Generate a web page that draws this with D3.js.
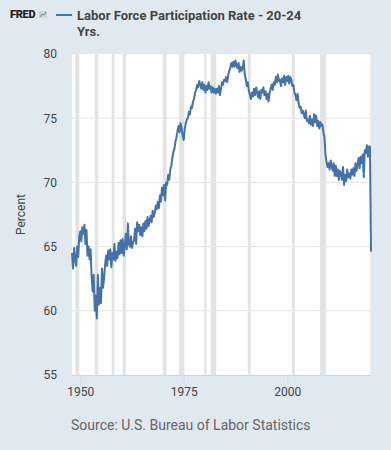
<!DOCTYPE html>
<html><head><meta charset="utf-8">
<script src="https://cdn.jsdelivr.net/npm/d3@7"></script>
<style>
html,body{margin:0;padding:0;background:#e1e9f0;}
svg{display:block;font-family:Roboto,"Open Sans",sans-serif;}
</style></head>
<body><svg id="c" width="391" height="450"></svg>
<script>
// Quarterly readings (Jan, Apr, Jul, Oct) starting 1948-01
const startYear = 1948;
const values = [
64.5,63.3,64.9,64.0, 63.5,65.0,64.2,65.8, 66.2,65.4,66.5,66.0, 66.7,65.2,66.3,64.3,
65.0,64.0,64.8,62.6, 61.5,62.8,60.0,61.2, 59.4,62.8,60.5,61.8, 60.6,63.3,61.8,62.5,
63.6,64.3,63.5,64.7, 64.0,64.8,63.4,64.5, 64.0,65.2,63.9,64.6, 64.1,65.3,64.4,65.5,
64.5,65.6,64.3,65.0, 66.0,64.8,66.8,65.2, 65.0,65.8,64.9,65.3, 65.5,66.4,65.2,66.9,
66.2,66.7,65.9,66.5, 65.8,66.8,66.2,67.0, 66.4,67.3,66.6,67.0, 67.4,66.9,67.8,67.3,
67.6,68.2,67.9,68.5, 68.0,69.0,68.5,69.6, 69.0,69.8,68.6,70.0, 69.8,70.6,70.2,71.0,
71.3,71.9,72.4,72.6, 73.2,73.5,74.0,74.4, 73.9,74.6,74.2,73.6, 73.3,74.2,74.6,74.9,
75.0,75.5,75.3,75.9, 75.8,76.3,76.5,77.0, 77.2,77.6,77.4,77.9, 77.6,77.3,77.8,77.2,
77.6,77.0,77.5,77.2, 77.8,77.3,77.5,77.0, 77.4,77.0,77.3,76.9, 77.3,77.0,77.5,76.8,
77.3,77.8,77.6,78.0, 77.9,78.2,77.8,78.4, 78.7,78.9,79.3,79.0, 79.4,79.0,79.5,79.1,
78.9,79.3,78.6,79.0, 78.7,78.9,79.5,78.4, 78.0,77.5,77.8,77.1, 76.8,76.5,77.0,76.7,
77.3,76.8,77.4,77.0, 76.6,77.1,76.5,77.2, 77.0,77.4,76.8,77.1, 76.5,76.9,76.3,77.0,
77.3,77.6,77.2,77.8, 77.6,78.2,77.8,78.4, 77.9,78.0,77.5,78.1, 77.8,78.3,77.6,78.2,
77.9,78.3,77.7,78.2, 78.0,77.5,77.6,77.0, 76.8,76.4,76.9,76.2, 75.8,75.9,75.4,75.6,
75.3,75.0,75.6,74.8, 74.9,74.6,75.2,74.5, 74.9,74.4,75.3,74.7, 75.2,74.4,74.8,74.2,
74.7,74.4,74.5,73.9, 73.5,72.2,71.6,71.2, 71.5,71.0,71.7,71.3, 70.9,71.5,70.5,71.3,
70.5,71.0,70.2,70.9, 70.7,70.2,71.2,69.8, 70.6,70.1,71.0,70.4, 70.7,70.3,71.0,70.6,
71.1,70.5,71.5,70.9, 71.4,71.9,71.1,72.0, 71.5,72.2,70.4,72.5, 72.3,72.9,72.0,72.8,
72.8,64.6
];
const recessions = [
["1948-11-01","1949-10-01"],["1953-07-01","1954-05-01"],["1957-08-01","1958-04-01"],
["1960-04-01","1961-02-01"],["1969-12-01","1970-11-01"],["1973-11-01","1975-03-01"],
["1980-01-01","1980-07-01"],["1981-07-01","1982-11-01"],["1990-07-01","1991-03-01"],
["2001-03-01","2001-11-01"],["2007-12-01","2009-06-01"],["2020-02-01","2020-04-01"]
];
const yTicks = [55,60,65,70,75,80];
const xTickYears = [1950,1975,2000];
const seriesTitle = ["Labor Force Participation Rate - 20-24","Yrs."];
const yLabel = "Percent";
const sourceText = "Source: U.S. Bureau of Labor Statistics";

const data = values.map((v,i)=>({d:new Date(startYear + Math.floor(i/4), (i%4)*3, 1), v}));

const svg = d3.select("#c");
const L=72, R=371, T=54, B=375;
const x = d3.scaleTime().domain([new Date(1948,0,1), new Date(2020,3,1)]).range([L,R]);
const y = d3.scaleLinear().domain([55,80]).range([B,T]);

svg.append("rect").attr("x",L).attr("y",T).attr("width",R-L).attr("height",B-T).attr("fill","#fff");

svg.append("g").selectAll("rect").data(recessions).join("rect")
  .attr("x",d=>x(new Date(d[0])))
  .attr("width",d=>Math.max(1,x(new Date(d[1]))-x(new Date(d[0]))))
  .attr("y",T).attr("height",B-T).attr("fill","#e3e3e3");

svg.append("g").selectAll("line").data(yTicks.slice(1,-1)).join("line")
  .attr("x1",L).attr("x2",R).attr("y1",d=>y(d)).attr("y2",d=>y(d))
  .attr("stroke","#e6e6e6").attr("stroke-width",1);

const yAxis = svg.append("g").attr("transform",`translate(${L},0)`)
  .call(d3.axisLeft(y).tickValues(yTicks).tickSize(0).tickPadding(15));
yAxis.select(".domain").remove();
yAxis.selectAll("text").attr("fill","#444").attr("font-size","12px").attr("font-family","Roboto");

const xAxis = svg.append("g").attr("transform",`translate(0,${B})`)
  .call(d3.axisBottom(x).tickValues(xTickYears.map(yr=>new Date(yr,0,1))).tickFormat(d3.timeFormat("%Y")).tickSize(8).tickPadding(4));
xAxis.select(".domain").attr("stroke","#ccd6eb").attr("d",`M${L},0.5H${R}`);
xAxis.selectAll(".tick line").attr("stroke","#ccd6eb");
xAxis.selectAll("text").attr("fill","#444").attr("font-size","12px").attr("font-family","Roboto");

svg.append("path").datum(data)
  .attr("d",d3.line().x(d=>x(d.d)).y(d=>y(d.v)))
  .attr("fill","none").attr("stroke","#4572a7").attr("stroke-width",2).attr("stroke-linejoin","round");

svg.append("text").attr("transform",`translate(25,${(T+B)/2}) rotate(-90)`)
  .attr("text-anchor","middle").attr("font-size","12px").attr("fill","#444").text(yLabel);

// header
svg.append("text").attr("x",10).attr("y",18).attr("font-size","11px").attr("font-weight","900")
  .attr("font-family","Roboto").attr("fill","#222").attr("letter-spacing","-0.3").text("FRED");
const icon = svg.append("g").attr("transform","translate(39,11)");
icon.append("rect").attr("width",8).attr("height",7).attr("fill","#c9d6e3");
icon.append("path").attr("d","M1,6L3,3L5,4L7,1").attr("fill","none").attr("stroke","#6b9a5a").attr("stroke-width",1);
svg.append("line").attr("x1",56).attr("x2",72).attr("y1",15).attr("y2",15).attr("stroke","#4572a7").attr("stroke-width",2);
svg.selectAll("text.title").data(seriesTitle).join("text").attr("class","title")
  .attr("x",77).attr("y",(d,i)=>20+i*16).attr("font-size","13px").attr("font-weight","bold")
  .attr("fill","#444").text(d=>d);

svg.append("text").attr("x",71).attr("y",430).attr("font-size","14px").attr("fill","#666").text(sourceText);
</script></body></html>
